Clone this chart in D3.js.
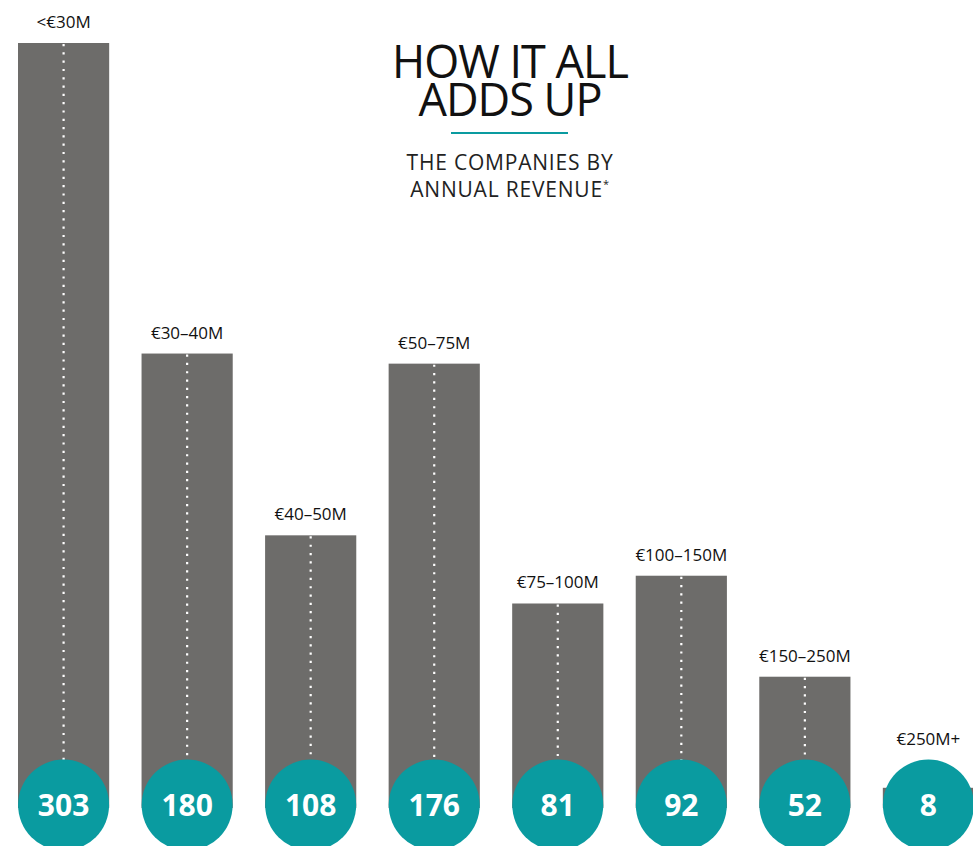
<!DOCTYPE html>
<html>
<head>
<meta charset="utf-8">
<script src="https://cdn.jsdelivr.net/npm/d3@7"></script>
<style>
  body { margin: 0; background: #fff; }
  svg { display: block; font-family: "Open Sans", "Noto Sans", sans-serif; }
</style>
</head>
<body>
<svg id="chart"></svg>
<script>
const svg_width = 973;
const svg_height = 846;

// revenue bands and number of companies in each
var bands = ["<€30M", "€30–40M", "€40–50M", "€50–75M", "€75–100M", "€100–150M", "€150–250M", "€250M+"];
var counts = [303, 180, 108, 176, 81, 92, 52, 8];

var title_lines = ["HOW IT ALL", "ADDS UP"];
var subtitle_lines = ["THE COMPANIES BY", "ANNUAL REVENUE"];

var bar_color = "#6d6c6a";
var teal = "#0a9ba0";

var base = 808;
var radius = 45.5;
var circle_y = 805;

var svg = d3.select("svg#chart")
    .attr("width", svg_width)
    .attr("height", svg_height);

var data = bands.map((b, i) => ({ band: b, count: counts[i] }));

var x = d3.scaleBand()
    .domain(bands)
    .range([18, 974])
    .paddingInner(0.262)
    .paddingOuter(0);

var y = d3.scaleLinear()
    .domain([0, 303])
    .range([base, 43]);

function cx(d) {
  return x(d.band) + x.bandwidth() / 2;
}

var bars = svg.append("g").selectAll("g.bar")
    .data(data)
    .enter()
    .append("g")
    .attr("class", "bar");

bars.append("rect")
    .attr("x", d => x(d.band))
    .attr("y", d => y(d.count))
    .attr("width", x.bandwidth())
    .attr("height", d => base - y(d.count))
    .attr("fill", bar_color);

// dotted centre line
bars.append("line")
    .attr("x1", cx)
    .attr("x2", cx)
    .attr("y1", d => y(d.count) + 1)
    .attr("y2", base)
    .attr("stroke", "#fff")
    .attr("stroke-width", 2.2)
    .attr("stroke-dasharray", "2.2 6.1");

// band label sits above the bar, or above the circle when the bar is short
bars.append("text")
    .attr("x", cx)
    .attr("y", d => Math.min(y(d.count), circle_y - radius) - 15)
    .attr("text-anchor", "middle")
    .style("font-size", "17px")
    .style("fill", "#111")
    .text(d => d.band);

bars.append("circle")
    .attr("cx", cx)
    .attr("cy", circle_y)
    .attr("r", radius)
    .attr("fill", teal);

bars.append("text")
    .attr("x", cx)
    .attr("y", circle_y)
    .attr("dy", "0.36em")
    .attr("text-anchor", "middle")
    .style("font-size", "30px")
    .style("font-weight", "700")
    .style("fill", "#fff")
    .text(d => d.count);

// title block
var title = svg.append("g");

title.selectAll("text.title")
    .data(title_lines)
    .enter()
    .append("text")
    .attr("class", "title")
    .attr("x", 510)
    .attr("y", (d, i) => 78 + i * 38)
    .attr("text-anchor", "middle")
    .style("font-size", "45px")
    .style("font-weight", "400")
    .style("letter-spacing", "-1px")
    .style("fill", "#111")
    .text(d => d);

title.append("line")
    .attr("x1", 451)
    .attr("x2", 568)
    .attr("y1", 133)
    .attr("y2", 133)
    .attr("stroke", teal)
    .attr("stroke-width", 2);

var sub = title.selectAll("text.sub")
    .data(subtitle_lines)
    .enter()
    .append("text")
    .attr("class", "sub")
    .attr("x", 510)
    .attr("y", (d, i) => 170 + i * 27)
    .attr("text-anchor", "middle")
    .style("font-size", "21px")
    .style("font-weight", "400")
    .style("letter-spacing", "0.8px")
    .style("fill", "#222")
    .text(d => d);

sub.filter((d, i) => i === 1)
    .append("tspan")
    .attr("dy", -9)
    .style("font-size", "11px")
    .text("*");
</script>
</body>
</html>
